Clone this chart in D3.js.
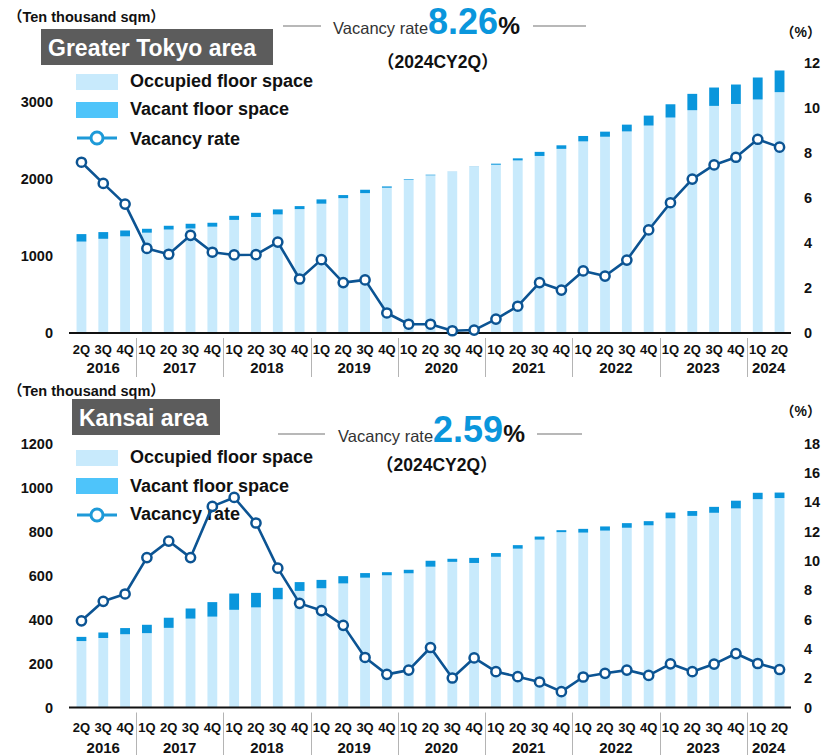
<!DOCTYPE html>
<html>
<head>
<meta charset="utf-8">
<script src="https://cdn.jsdelivr.net/npm/d3@7"></script>
<style>
  html, body { margin: 0; padding: 0; background: #fff; }
  svg { display: block; font-family: "Liberation Sans", Arial, "Noto Sans CJK JP", sans-serif; }
</style>
</head>
<body>
<svg id="chart" width="822" height="755"></svg>
<script>
// Quarters from 2016 2Q to 2024 2Q
const quarterLabels = ["2Q","3Q","4Q",
  "1Q","2Q","3Q","4Q", "1Q","2Q","3Q","4Q", "1Q","2Q","3Q","4Q",
  "1Q","2Q","3Q","4Q", "1Q","2Q","3Q","4Q", "1Q","2Q","3Q","4Q",
  "1Q","2Q","3Q","4Q", "1Q","2Q"];
const yearLabels = ["2016","2017","2018","2019","2020","2021","2022","2023","2024"];
const yearQuarterCounts = [3,4,4,4,4,4,4,4,2];

// Greater Tokyo area (ten thousand sqm / %)
const tokyoOccupied = [1185,1221,1253,1300,1341,1355,1378,1466,1504,1537,1606,1676,1748,1813,1883,
  1988,2044,2089,2153,2181,2237,2295,2387,2484,2544,2613,2689,2793,2888,2944,2969,3027,3122];
const tokyoVacant = [97,87,76,51,49,61,51,53,54,65,39,56,40,44,17,
  8,8,2,3,14,27,53,46,70,66,88,129,172,212,238,252,285,281];
const tokyoRate = [7.59,6.65,5.73,3.76,3.50,4.34,3.59,3.47,3.48,4.04,2.40,3.26,2.24,2.36,0.89,
  0.39,0.39,0.10,0.13,0.62,1.19,2.24,1.91,2.76,2.53,3.24,4.58,5.79,6.84,7.47,7.81,8.61,8.26];

// Kansai area (ten thousand sqm / %)
const kansaiOccupied = [302,316,333,338,362,404,413,444,455,492,530,542,564,590,601,
  610,640,662,657,685,722,763,797,795,804,817,828,860,871,885,905,947,952];
const kansaiVacant = [19,25,28,38,46,46,66,74,66,52,40,38,33,21,14,
  16,27,14,23,17,16,14,9,17,19,21,19,26,22,27,35,29,25];
const kansaiRate = [5.91,7.24,7.74,10.22,11.35,10.22,13.71,14.32,12.58,9.50,7.10,6.61,5.60,3.41,2.26,
  2.55,4.09,2.01,3.38,2.44,2.10,1.74,1.08,2.08,2.33,2.55,2.19,2.98,2.44,2.96,3.68,3.00,2.59];

const COLORS = {
  occupied: "#c8eafc",
  vacantBar: "#0a96dc",
  vacantKey: "#4ec4fa",
  line: "#0c5493",
  lineKey: "#1e9ad8",
  rateText: "#0a96dc",
  titleBox: "#5c5c5c",
  rule: "#a0a0a0",
  sep: "#b4b4b4"
};

const svg = d3.select("#chart");

function drawPanel(cfg) {
  const g = svg.append("g");
  const n = cfg.occupied.length;
  const idx = d3.range(n);

  const x = d3.scaleBand().domain(idx).range([70, 791]).paddingInner(0.55).paddingOuter(0.3);
  const yL = d3.scaleLinear().domain(cfg.leftDomain).range([cfg.base, cfg.top]);
  const yR = d3.scaleLinear().domain(cfg.rightDomain).range([cfg.base, cfg.top]);

  // unit caption and title box
  g.append("text").attr("x", 8).attr("y", cfg.unitY)
    .attr("font-size", 14.5).attr("font-weight", "bold").attr("fill", "#111")
    .text("（Ten thousand sqm）");
  g.append("rect").attr("x", cfg.titleBox[0]).attr("y", cfg.titleBox[1])
    .attr("width", cfg.titleBox[2]).attr("height", cfg.titleBox[3]).attr("fill", COLORS.titleBox);
  g.append("text").attr("x", cfg.titleBox[0] + 7).attr("y", cfg.titleBox[1] + 26.5)
    .attr("font-size", 23).attr("font-weight", "bold").attr("fill", "#fff")
    .text(cfg.title);

  // headline rate
  g.append("line").attr("x1", cfg.head.lx1).attr("x2", cfg.head.lx2)
    .attr("y1", cfg.head.ly).attr("y2", cfg.head.ly).attr("stroke", COLORS.rule).attr("stroke-width", 1.5);
  g.append("line").attr("x1", cfg.head.rx1).attr("x2", cfg.head.rx2)
    .attr("y1", cfg.head.ly).attr("y2", cfg.head.ly).attr("stroke", COLORS.rule).attr("stroke-width", 1.5);
  const ht = g.append("text").attr("x", cfg.head.tx).attr("y", cfg.head.ty);
  ht.append("tspan").attr("font-size", 16.5).attr("fill", "#333").text("Vacancy rate");
  ht.append("tspan").attr("font-size", 36).attr("font-weight", "bold").attr("fill", COLORS.rateText)
    .text(cfg.rate[n - 1].toFixed(2));
  ht.append("tspan").attr("font-size", 24.5).attr("font-weight", "bold").attr("fill", "#111").text("%");
  g.append("text").attr("x", cfg.head.px).attr("y", cfg.head.py)
    .attr("font-size", 17.5).attr("font-weight", "bold").attr("fill", "#111")
    .text("（2024CY2Q）");

  // right unit
  g.append("text").attr("x", 821).attr("y", cfg.pctY).attr("text-anchor", "end")
    .attr("font-size", 14).attr("font-weight", "bold").attr("fill", "#111").text("（%）");

  // legend
  const L = cfg.legend;
  g.append("rect").attr("x", 76).attr("y", L[0]).attr("width", 42).attr("height", 16).attr("fill", COLORS.occupied);
  g.append("rect").attr("x", 76).attr("y", L[1]).attr("width", 42).attr("height", 16).attr("fill", COLORS.vacantKey);
  g.append("line").attr("x1", 77).attr("x2", 117).attr("y1", L[2]).attr("y2", L[2])
    .attr("stroke", COLORS.lineKey).attr("stroke-width", 3);
  g.append("circle").attr("cx", 97).attr("cy", L[2]).attr("r", 6)
    .attr("fill", "#fff").attr("stroke", COLORS.lineKey).attr("stroke-width", 3);
  const legendText = ["Occupied floor space", "Vacant floor space", "Vacancy rate"];
  legendText.forEach((t, i) => {
    g.append("text").attr("x", 130).attr("y", cfg.legendText[i])
      .attr("font-size", 18).attr("font-weight", "bold").attr("fill", "#111").text(t);
  });

  // left axis
  const axL = g.append("g").attr("transform", "translate(53,0)")
    .call(d3.axisLeft(yL).tickValues(cfg.leftTicks).tickSize(0).tickPadding(0).tickFormat(d3.format("d")));
  axL.select(".domain").remove();
  axL.selectAll("text").attr("font-size", 14.5).attr("font-weight", "bold").attr("fill", "#111")
    .attr("font-family", "Liberation Sans, Arial, sans-serif");

  // right axis
  const axR = g.append("g").attr("transform", "translate(804,0)")
    .call(d3.axisRight(yR).tickValues(cfg.rightTicks).tickSize(0).tickPadding(0).tickFormat(d3.format("d")));
  axR.select(".domain").remove();
  axR.selectAll("text").attr("font-size", 14.5).attr("font-weight", "bold").attr("fill", "#111")
    .attr("font-family", "Liberation Sans, Arial, sans-serif");

  // stacked bars
  const bars = g.append("g");
  bars.selectAll("rect.occ").data(idx).join("rect").attr("class", "occ")
    .attr("x", i => x(i)).attr("width", x.bandwidth())
    .attr("y", i => yL(cfg.occupied[i])).attr("height", i => yL(0) - yL(cfg.occupied[i]))
    .attr("fill", COLORS.occupied);
  bars.selectAll("rect.vac").data(idx).join("rect").attr("class", "vac")
    .attr("x", i => x(i)).attr("width", x.bandwidth())
    .attr("y", i => yL(cfg.occupied[i] + cfg.vacant[i]))
    .attr("height", i => yL(cfg.occupied[i]) - yL(cfg.occupied[i] + cfg.vacant[i]))
    .attr("fill", COLORS.vacantBar);

  // baseline
  g.append("line").attr("x1", 69).attr("x2", 791).attr("y1", cfg.base).attr("y2", cfg.base)
    .attr("stroke", "#111").attr("stroke-width", 2);

  // quarter labels
  const axB = g.append("g").attr("transform", `translate(0,${cfg.base})`)
    .call(d3.axisBottom(x).tickSize(0).tickPadding(0).tickFormat(i => quarterLabels[i]));
  axB.select(".domain").remove();
  axB.selectAll("text").attr("font-size", 13).attr("font-weight", "bold").attr("fill", "#111")
    .attr("dy", null).attr("y", cfg.qOffset).attr("font-family", "Liberation Sans, Arial, sans-serif");

  // year labels and separators
  let start = 0;
  const half = x.step() * x.paddingInner() / 2;
  yearLabels.forEach((yr, k) => {
    const end = start + yearQuarterCounts[k] - 1;
    const cx = (x(start) + x(end) + x.bandwidth()) / 2;
    g.append("text").attr("x", cx).attr("y", cfg.base + cfg.yOffset).attr("text-anchor", "middle")
      .attr("font-size", 15).attr("font-weight", "bold").attr("fill", "#111").text(yr);
    if (k > 0) {
      const sx = Math.round(x(start) - half) + 0.5;
      g.append("line").attr("x1", sx).attr("x2", sx)
        .attr("y1", cfg.base + 5).attr("y2", cfg.base + cfg.sepEnd)
        .attr("stroke", COLORS.sep).attr("stroke-width", 1);
    }
    start = end + 1;
  });

  // vacancy rate line
  const line = d3.line().x(i => x(i) + x.bandwidth() / 2).y(i => yR(cfg.rate[i]));
  g.append("path").datum(idx).attr("d", line)
    .attr("fill", "none").attr("stroke", COLORS.line).attr("stroke-width", 2.6).attr("stroke-linejoin", "round");
  g.selectAll("circle.pt").data(idx).join("circle").attr("class", "pt")
    .attr("cx", i => x(i) + x.bandwidth() / 2).attr("cy", i => yR(cfg.rate[i])).attr("r", 4.6)
    .attr("fill", "#fff").attr("stroke", COLORS.line).attr("stroke-width", 2.5);
}

drawPanel({
  title: "Greater Tokyo area",
  occupied: tokyoOccupied, vacant: tokyoVacant, rate: tokyoRate,
  base: 333, top: 63,
  leftDomain: [0, 3500], rightDomain: [0, 12],
  leftTicks: [0, 1000, 2000, 3000], rightTicks: [0, 2, 4, 6, 8, 10, 12],
  unitY: 22, titleBox: [41, 29, 232, 36],
  head: { lx1: 283, lx2: 321, rx1: 533, rx2: 586, ly: 26, tx: 333, ty: 34, px: 377, py: 68 },
  pctY: 37,
  legend: [74, 102, 138], legendText: [87, 115, 145],
  qOffset: 21, yOffset: 40, sepEnd: 44
});

drawPanel({
  title: "Kansai area",
  occupied: kansaiOccupied, vacant: kansaiVacant, rate: kansaiRate,
  base: 707.5, top: 443.5,
  leftDomain: [0, 1200], rightDomain: [0, 18],
  leftTicks: d3.range(0, 1201, 200), rightTicks: d3.range(0, 19, 2),
  unitY: 396, titleBox: [72, 399, 148, 36],
  head: { lx1: 278, lx2: 325, rx1: 537, rx2: 582, ly: 434, tx: 338, ty: 441.5, px: 376, py: 471 },
  pctY: 416,
  legend: [450, 478, 515], legendText: [463, 492, 520],
  qOffset: 24, yOffset: 45, sepEnd: 48
});
</script>
</body>
</html>
